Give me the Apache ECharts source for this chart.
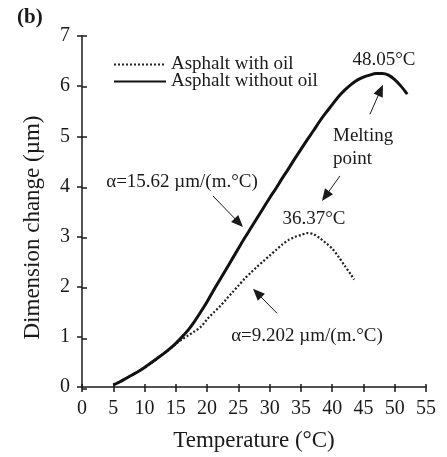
<!DOCTYPE html>
<html>
<head>
<meta charset="utf-8">
<script src="https://cdn.jsdelivr.net/npm/echarts@6/dist/echarts.min.js"></script>
<style>
html,body{margin:0;padding:0;background:#fff;}
#c{width:447px;height:457px;}
</style>
</head>
<body>
<div id="c"></div>
<script>
// ---- data ----
var tempWithout = [5,6,7,8,9,10,11,12,13,14,15,16,17,18,19,20,21,22,23,24,25,26,27,28,29,30,31,32,33,34,35,36,37,38,39,40,41,42,43,44,45,46,47,48,49,50,51,52];
var valWithout  = [0.04,0.1,0.17,0.24,0.31,0.39,0.48,0.57,0.66,0.76,0.87,1.0,1.14,1.31,1.5,1.7,1.92,2.13,2.34,2.55,2.76,2.97,3.17,3.37,3.57,3.77,3.96,4.16,4.35,4.55,4.74,4.93,5.11,5.3,5.47,5.63,5.79,5.92,6.03,6.12,6.18,6.22,6.25,6.25,6.22,6.13,6.0,5.84];
var tempWith = [5,6,7,8,9,10,11,12,13,14,15,16,17,18,19,20,21,22,23,24,25,26,27,28,29,30,31,32,33,34,35,36,37,38,39,40,41,42,43,43.5];
var valWith  = [0.05,0.1,0.17,0.24,0.31,0.39,0.47,0.56,0.66,0.75,0.86,0.95,1.03,1.11,1.2,1.35,1.48,1.6,1.74,1.88,2.02,2.16,2.28,2.4,2.51,2.62,2.73,2.84,2.93,2.99,3.03,3.07,3.05,2.97,2.87,2.76,2.6,2.42,2.24,2.14];
var seriesNames = ['Asphalt with oil', 'Asphalt without oil'];
var xTicks = {min: 0, max: 55, interval: 5};
var yTicks = {min: 0, max: 7, interval: 1};
var xTitle = 'Temperature (°C)';
var yTitle = 'Dimension change (µm)';
var panelLabel = '(b)';
// annotations in data units [T, value]
var annTexts = [
  {text: '48.05°C', at: [48.28, 6.53], align: 'center'},
  {text: 'Melting\npoint', at: [40.13, 4.77], align: 'left'},
  {text: '36.37°C', at: [37.09, 3.35], align: 'center'},
  {text: 'α=15.62 µm/(m.°C)', at: [15.99, 4.09], align: 'center'},
  {text: 'α=9.202 µm/(m.°C)', at: [35.97, 1.01], align: 'center'}
];
var annArrows = [
  {from: [46.04, 5.44], to: [48.12, 6.03]},
  {from: [41.25, 4.21], to: [38.37, 3.71]},
  {from: [20.94, 3.81], to: [25.74, 3.19]},
  {from: [31.18, 1.47], to: [27.34, 1.96]}
];

var FONT = 'Liberation Serif';
var INK = '#1a1a1a';
var chart = echarts.init(document.getElementById('c'), null, {renderer: 'canvas'});

function zip(a, b) { return a.map(function (v, i) { return [v, b[i]]; }); }

var gridRect = {left: 82, top: 36, right: 21, bottom: 68};
var option = {
  backgroundColor: '#fff',
  animation: false,
  grid: [Object.assign({}, gridRect), Object.assign({}, gridRect)],
  legend: {
    orient: 'vertical', left: 108, top: 50,
    itemWidth: 52, itemHeight: 10, itemGap: -2,
    data: seriesNames,
    itemStyle: {opacity: 0},
    textStyle: {fontFamily: FONT, fontSize: 19, color: INK, lineHeight: 16}
  },
  xAxis: [{
    type: 'value', gridIndex: 0, min: xTicks.min, max: xTicks.max, interval: xTicks.interval,
    axisLine: {lineStyle: {color: INK, width: 1.5}},
    axisTick: {show: true, length: 5, lineStyle: {color: INK, width: 1.5}},
    axisLabel: {fontFamily: FONT, fontSize: 20, color: INK, margin: 12},
    splitLine: {show: false},
    name: xTitle, nameLocation: 'middle', nameGap: 42,
    nameTextStyle: {fontFamily: FONT, fontSize: 23, color: INK, lineHeight: 23}
  }, {
    type: 'value', gridIndex: 1, min: xTicks.min, max: xTicks.max, interval: xTicks.interval,
    axisLine: {show: false},
    axisTick: {show: true, inside: true, length: 5, lineStyle: {color: INK, width: 1.5}},
    axisLabel: {show: false}, splitLine: {show: false}
  }],
  yAxis: [{
    type: 'value', gridIndex: 0, min: yTicks.min, max: yTicks.max, interval: yTicks.interval,
    axisLine: {show: true, lineStyle: {color: INK, width: 1.5}},
    axisTick: {show: true, length: 5, lineStyle: {color: INK, width: 1.5}},
    axisLabel: {fontFamily: FONT, fontSize: 20, color: INK, margin: 12},
    splitLine: {show: false},
    name: yTitle, nameLocation: 'middle', nameGap: 38,
    nameTextStyle: {fontFamily: FONT, fontSize: 23, color: INK, lineHeight: 23, padding: [0, 32, 0, 0]}
  }, {
    type: 'value', gridIndex: 1, min: yTicks.min, max: yTicks.max, interval: yTicks.interval,
    axisLine: {show: false},
    axisTick: {show: true, inside: true, length: 5, lineStyle: {color: INK, width: 1.5}},
    axisLabel: {show: false}, splitLine: {show: false}
  }],
  series: [{
    name: seriesNames[0], type: 'line', xAxisIndex: 0, yAxisIndex: 0,
    data: zip(tempWith, valWith), showSymbol: false, symbol: 'none', smooth: 0.3,
    lineStyle: {color: '#222', width: 2.2, type: [2, 2]}, itemStyle: {color: '#222'}, z: 3
  }, {
    name: seriesNames[1], type: 'line', xAxisIndex: 0, yAxisIndex: 0,
    data: zip(tempWithout, valWithout), showSymbol: false, symbol: 'none', smooth: 0.3,
    lineStyle: {color: '#111', width: 3}, itemStyle: {color: '#111'}, z: 4
  }]
};
chart.setOption(option);

function px(p) { return chart.convertToPixel({gridIndex: 0}, p); }
var graphics = [{
  type: 'text', left: 17, top: 7,
  style: {text: panelLabel, font: 'bold 21px "' + FONT + '"', fill: INK}
}];
annTexts.forEach(function (a) {
  var p = px(a.at);
  graphics.push({
    type: 'text', x: p[0], y: p[1],
    style: {text: a.text, fontFamily: FONT, fontSize: 19, fill: INK,
      align: a.align, verticalAlign: 'middle', lineHeight: 23}
  });
});
annArrows.forEach(function (a) {
  var f = px(a.from), t = px(a.to);
  var dx = t[0] - f[0], dy = t[1] - f[1], L = Math.sqrt(dx * dx + dy * dy);
  var ux = dx / L, uy = dy / L, nx = -uy, ny = ux;
  var hl = 12, hw = 5;
  var bx = t[0] - ux * hl, by = t[1] - uy * hl;
  graphics.push({type: 'line', shape: {x1: f[0], y1: f[1], x2: bx + ux * 2, y2: by + uy * 2},
    style: {stroke: INK, lineWidth: 1}});
  graphics.push({type: 'polygon', shape: {points: [[t[0], t[1]], [bx + nx * hw, by + ny * hw], [bx - nx * hw, by - ny * hw]]},
    style: {fill: INK}});
});
chart.setOption({graphic: graphics});
</script>
</body>
</html>
